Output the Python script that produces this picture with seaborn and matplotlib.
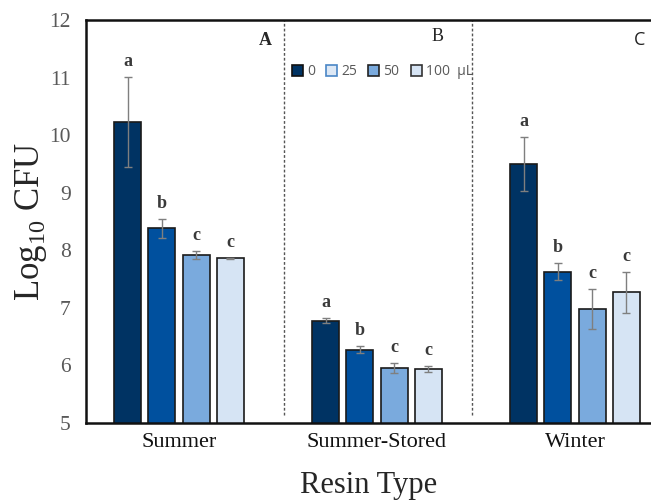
import numpy as np
import pandas as pd
import seaborn as sns
import matplotlib.pyplot as plt
from matplotlib.patches import Patch

# ── data ────────────────────────────────────────────────────────────────
seasons = ["Summer", "Summer-Stored", "Winter"]
doses = ["0", "25", "50", "100"]

log_cfu = {
    "Summer":        [10.23, 8.38, 7.92, 7.86],
    "Summer-Stored": [6.78, 6.27, 5.95, 5.94],
    "Winter":        [9.50, 7.63, 6.98, 7.27],
}
log_err = {
    "Summer":        [0.78, 0.17, 0.07, 0.01],
    "Summer-Stored": [0.05, 0.06, 0.09, 0.05],
    "Winter":        [0.47, 0.15, 0.35, 0.36],
}
letters = {
    "Summer":        ["a", "b", "c", "c"],
    "Summer-Stored": ["a", "b", "c", "c"],
    "Winter":        ["a", "b", "c", "c"],
}
panel_labels = ["A", "B", "C"]
legend_labels = ["0", "25", "50", "100  µL"]

bar_colors = ["#003363", "#00509e", "#7aaadd", "#d6e4f4"]
legend_edges = ["#111111", "#4a86c6", "#222222", "#333333"]
legend_faces = ["#003363", "#dde8f5", "#7aaadd", "#d6e4f4"]

SERIF = "Liberation Serif"
GREY = "#595959"

rows = []
for s in seasons:
    for d, v, e, l in zip(doses, log_cfu[s], log_err[s], letters[s]):
        rows.append({"season": s, "dose": d, "cfu": v, "err": e, "letter": l})
df = pd.DataFrame(rows)

# ── plot ────────────────────────────────────────────────────────────────
sns.set_style("white")
plt.rcParams["font.family"] = [SERIF, "DejaVu Serif"]
plt.rcParams["mathtext.fontset"] = "custom"
plt.rcParams["mathtext.rm"] = SERIF

fig = plt.figure(figsize=(6.51, 5.0), dpi=100)
ax = fig.add_axes([0.132, 0.154, 0.868, 0.806])

sns.barplot(data=df, x="season", y="cfu", hue="dose", order=seasons,
            hue_order=doses, palette=bar_colors, saturation=1,
            width=0.69, gap=0.21, edgecolor="#1a1a1a", linewidth=1.2,
            legend=False, ax=ax)

# error bars and significance letters on top of each bar
bars = sorted(ax.patches, key=lambda p: p.get_x())
bar_rows = df.set_index(["season", "dose"])
for i, s in enumerate(seasons):
    group = [b for b in bars if abs(b.get_x() + b.get_width() / 2 - i) < 0.45]
    for b, d in zip(group, doses):
        r = bar_rows.loc[(s, d)]
        xc = b.get_x() + b.get_width() / 2
        ax.errorbar(xc, r["cfu"], yerr=r["err"], fmt="none", ecolor="#7f7f7f",
                    elinewidth=1.0, capsize=3, capthick=1.0)
        ax.annotate(r["letter"], (xc, r["cfu"] + r["err"]), xytext=(0, 5),
                    textcoords="offset points", ha="center", va="bottom",
                    fontsize=13, color="#3a3a3a", fontweight="bold")

# dotted dividers between resin groups
for xd in [0.53, 1.48]:
    ax.axvline(xd, ymin=0.02, ymax=1, color="#555555", lw=1.0, ls=(0, (2, 1.5)))

ax.set_ylim(5, 12)
ax.set_xlim(-0.47, 2.384)
ax.set_yticks(range(5, 13))
ax.tick_params(axis="y", length=0, labelsize=15.5, labelcolor=GREY, pad=11)
ax.tick_params(axis="x", length=0, labelsize=16, pad=7)
for lab in ax.get_xticklabels():
    lab.set_color("#111111")

for side in ["left", "bottom", "top"]:
    ax.spines[side].set_color("#111111")
    ax.spines[side].set_linewidth(1.8)
ax.spines["right"].set_visible(False)

ax.set_ylabel(r"Log$_\mathregular{10}$ CFU", fontsize=25, labelpad=0)
ax.set_xlabel("Resin Type", fontsize=22, labelpad=14)

ax.text(0.317, 0.950, panel_labels[0], transform=ax.transAxes, ha="center",
        va="center", fontsize=13, fontweight="bold")
ax.text(0.622, 0.958, panel_labels[1], transform=ax.transAxes, ha="center",
        va="center", fontsize=13)
ax.text(0.980, 0.950, panel_labels[2], transform=ax.transAxes, ha="center",
        va="center", fontsize=13, family="Open Sans", color="#222222")

handles = [Patch(facecolor=f, edgecolor=e, linewidth=1.2)
           for f, e in zip(legend_faces, legend_edges)]
leg = ax.legend(handles, legend_labels, loc="upper left",
                bbox_to_anchor=(0.364, 0.890), ncol=4, frameon=False,
                handlelength=0.8, handleheight=0.8, handletextpad=0.3,
                columnspacing=0.8, borderpad=0, borderaxespad=0,
                prop={"family": "Open Sans", "size": 10})
for t in leg.get_texts():
    t.set_color(GREY)

fig.savefig("out.png", dpi=100)
